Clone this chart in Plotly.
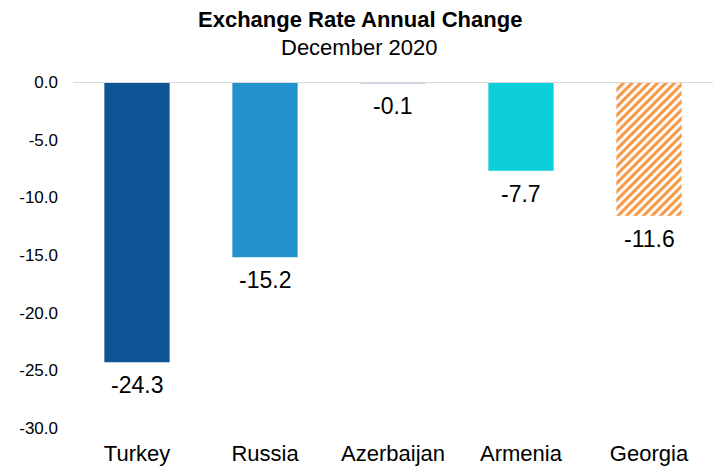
import plotly.graph_objects as go

countries = ["Turkey", "Russia", "Azerbaijan", "Armenia", "Georgia"]
changes = [-24.3, -15.2, -0.1, -7.7, -11.6]
bar_colors = ["#0d5495", "#2192cc", "#c5d3e8", "#0ccfd9", "#f7963f"]
hatched = [False, False, False, False, True]
y_ticks = [0, -5, -10, -15, -20, -25, -30]
y_tick_labels = ["0.0", "-5.0", "-10.0", "-15.0", "-20.0", "-25.0", "-30.0"]
title = "Exchange Rate Annual Change"
subtitle = "December 2020"

solid = [i for i, h in enumerate(hatched) if not h]
striped = [i for i, h in enumerate(hatched) if h]

fig = go.Figure()
fig.add_trace(go.Bar(
    x=[countries[i] for i in solid],
    y=[changes[i] for i in solid],
    width=0.51,
    marker=dict(color=[bar_colors[i] for i in solid], line=dict(width=0)),
))
fig.add_trace(go.Bar(
    x=[countries[i] for i in striped],
    y=[changes[i] for i in striped],
    width=0.51,
    marker=dict(
        color="white",
        line=dict(width=0),
        pattern=dict(shape="/", fgcolor=bar_colors[4], bgcolor="white",
                     size=6, solidity=0.5, fillmode="replace"),
    ),
))

# value labels below each bar end
for c, v in zip(countries, changes):
    fig.add_annotation(x=c, y=v, text=f"{v:.1f}", showarrow=False,
                       yanchor="top", yshift=-8,
                       font=dict(family="Liberation Sans, Arial", size=23, color="black"))

# title + subtitle, centred on the page rather than the plot area
fig.add_annotation(xref="paper", yref="paper", x=0.448, y=1.182, text=f"<b>{title}</b>",
                   showarrow=False, xanchor="center", yanchor="middle",
                   font=dict(family="Liberation Sans, Arial", size=22, color="black"))
fig.add_annotation(xref="paper", yref="paper", x=0.448, y=1.101, text=subtitle,
                   showarrow=False, xanchor="center", yanchor="middle",
                   font=dict(family="Liberation Sans, Arial", size=22, color="black"))

fig.add_shape(type="line", xref="paper", yref="y", x0=0, x1=1, y0=0, y1=0,
              line=dict(color="#d9d9d9", width=2), layer="above")

fig.update_layout(
    width=723, height=474,
    margin=dict(l=65, r=18, t=74, b=54),
    plot_bgcolor="white", paper_bgcolor="white",
    showlegend=False,
    barmode="overlay",
    font=dict(family="Liberation Sans, Arial", color="black"),
    xaxis=dict(showgrid=False, showline=False, ticks="",
               categoryorder="array", categoryarray=countries,
               tickfont=dict(size=22), ticklabelstandoff=10),
    yaxis=dict(range=[-30, 0], tickvals=y_ticks, ticktext=y_tick_labels,
               showgrid=False, zeroline=False, showline=False,
               tickfont=dict(size=17), ticklabelstandoff=14),
)

fig.write_html("out.html")
